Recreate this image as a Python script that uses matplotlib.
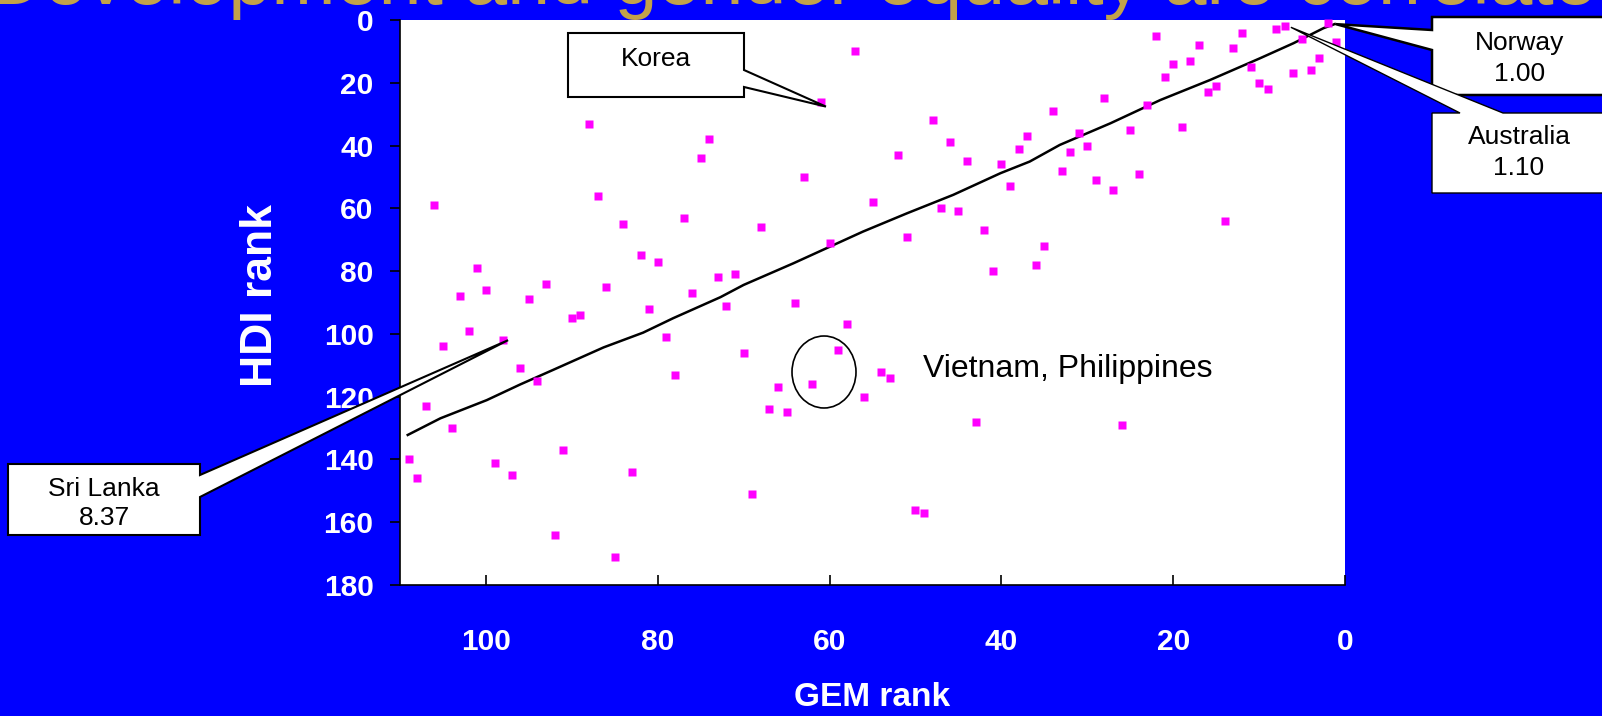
import matplotlib
matplotlib.use('Agg')
import matplotlib.pyplot as plt
from matplotlib.patches import Polygon, Ellipse

plt.rcParams['font.family'] = ['Liberation Sans', 'DejaVu Sans']

# GEM rank (x) and HDI rank (y) per country
gem_rank = [88, 74, 75, 106, 87, 84, 77, 82, 80, 73, 101, 100, 103, 95, 93, 86, 76, 81,
            57, 61, 48, 46, 52, 44, 37, 38, 40, 39, 63, 55, 47, 45, 42, 51, 68, 60, 41,
            71, 72, 64, 22, 12, 8, 7, 2, 1, 5, 17, 13, 20, 18, 21, 11, 3, 6, 4, 10, 9,
            15, 16, 28, 23, 34, 19, 25, 31, 32, 30, 33, 29, 27, 24, 14, 35, 36,
            90, 89, 102, 105, 98, 79, 96, 94, 78, 107, 104, 109, 108, 99, 97, 91, 83,
            92, 85, 58, 70, 59, 66, 62, 54, 53, 56, 67, 65, 43, 69, 50, 49, 26]
hdi_rank = [33, 38, 44, 59, 56, 65, 63, 75, 77, 82, 79, 86, 88, 89, 84, 85, 87, 92,
            10, 26, 32, 39, 43, 45, 37, 41, 46, 53, 50, 58, 60, 61, 67, 69, 66, 71, 80,
            81, 91, 90, 5, 4, 3, 2, 1, 7, 6, 8, 9, 14, 13, 18, 15, 12, 17, 16, 20, 22,
            21, 23, 25, 27, 29, 34, 35, 36, 42, 40, 48, 51, 54, 49, 64, 72, 78,
            95, 94, 99, 104, 102, 101, 111, 115, 113, 123, 130, 140, 146, 141, 145, 137, 144,
            164, 171, 97, 106, 105, 117, 116, 112, 114, 120, 124, 125, 128, 151, 156, 157, 129]

# smoothed trend line
trend_gem = [109.1, 105.3, 99.9, 96.0, 92.2, 86.3, 81.7, 78.2, 72.7, 70.0, 64.2, 56.1,
             51.0, 45.6, 40.1, 36.7, 33.2, 27.3, 21.5, 15.7, 9.9, 6.0, 2.5, 1.2]
trend_hdi = [132.2, 126.9, 121.1, 116.1, 111.5, 104.3, 99.6, 95.0, 88.3, 84.4, 77.5, 67.4,
             61.6, 55.7, 48.8, 45.1, 39.8, 32.9, 25.5, 19.1, 12.2, 7.4, 2.6, 1.3]

x_ticks = [100, 80, 60, 40, 20, 0]
y_ticks = [0, 20, 40, 60, 80, 100, 120, 140, 160, 180]

W, H = 1602, 716
fig = plt.figure(figsize=(W / 100, H / 100), dpi=100, facecolor='#0000FF')
ax = fig.add_axes([400 / W, 1 - 585 / H, 945 / W, 565 / H])
ax.set_facecolor('white')
ax.set_xlim(110, 0)
ax.set_ylim(180, 0)

ax.plot(trend_gem, trend_hdi, color='black', lw=1.8, zorder=2)
ax.plot(gem_rank, hdi_rank, 's', color='#FF00FF', ms=5.8, mec='none', zorder=3, clip_on=False)

ax.set_xticks(x_ticks)
ax.set_yticks(y_ticks)
ax.tick_params(axis='x', direction='in', length=7, width=1.2, pad=31, labelsize=21.5,
               labelcolor='white', color='black')
ax.tick_params(axis='y', direction='out', length=7, width=1.2, pad=12, labelsize=21.5,
               labelcolor='white', color='black')
for lbl in ax.get_xticklabels() + ax.get_yticklabels():
    lbl.set_fontweight('bold')
for s in ['top', 'right']:
    ax.spines[s].set_visible(False)
for s in ['left', 'bottom']:
    ax.spines[s].set_linewidth(1.2)
    ax.spines[s].set_color('black')

ax.set_xlabel('GEM rank', fontsize=24, fontweight='bold', color='white')
ax.xaxis.set_label_coords(0.5, (585 - 698) / 565)
ax.xaxis.label.set_va('center')
ax.set_ylabel('HDI rank', fontsize=32, fontweight='bold', color='white')
ax.yaxis.set_label_coords((260 - 400) / 945, (585 - 296) / 565)
ax.yaxis.label.set_va('center')

# title, cut off at the top of the slide
fig.text(-12 / W, 1 - 4.5 / H, 'Development and gender equality are correlated',
         fontsize=55.5, color='#C2A24A', ha='left', va='baseline')


def fxy(px, py):
    return px / W, 1 - py / H


def tip(x, y, dx=0, dy=0):
    d = ax.transData.transform((x, y))
    return d[0] + dx, H - d[1] + dy


def callout(pts, lw=1.5):
    poly = Polygon([fxy(*p) for p in pts], closed=True, transform=fig.transFigure,
                   facecolor='white', edgecolor='black', lw=lw, zorder=5, clip_on=False)
    fig.add_artist(poly)


def label(px, py, s, size=19):
    fig.text(*fxy(px, py), s, fontsize=size, ha='center', va='center', zorder=6)


# Korea
kt = tip(61, 26, 5, 5)
callout([(568, 33), (744, 33), (744, 70), kt, (744, 87), (744, 97), (568, 97)])
label(656, 59, 'Korea')

# Norway
nt = tip(2, 1, 8, 1)
callout([(1432, 17), (1630, 17), (1630, 95), (1432, 95), (1432, 50), nt, (1432, 30)], lw=1.8)
label(1520, 43, 'Norway')
label(1520, 74, '1.00')

# Australia
at = tip(7, 2, 6, 1)
callout([(1432, 113), (1460, 113), at, (1503, 113), (1630, 113), (1630, 193), (1432, 193)], lw=1.0)
label(1519, 137, 'Australia')
label(1519, 168, '1.10')

# Sri Lanka
st = tip(98, 102, 5, 0)
callout([(8, 464), (200, 464), (200, 475), st, (200, 497), (200, 535), (8, 535)])
label(104, 489, 'Sri Lanka')
label(104, 518, '8.37')

# Vietnam, Philippines
ell = Ellipse(fxy(824, 372), 64 / W, 72 / H, transform=fig.transFigure,
              facecolor='none', edgecolor='black', lw=1.2, zorder=4)
fig.add_artist(ell)
fig.text(*fxy(923, 377), 'Vietnam, Philippines', fontsize=23, ha='left', va='baseline', zorder=6)

fig.savefig('out.png', dpi=100, facecolor=fig.get_facecolor())
